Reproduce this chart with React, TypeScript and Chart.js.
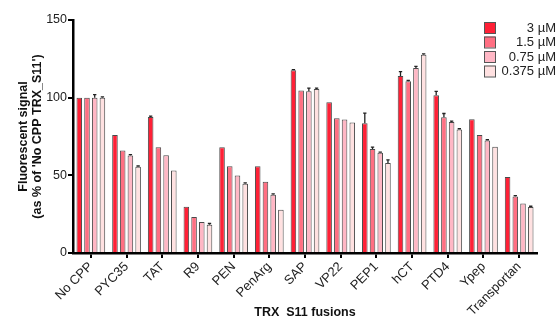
import { useEffect, useRef } from 'react';
import { Chart, registerables } from 'chart.js';
Chart.register(...registerables);

const categories = ['No CPP', 'PYC35', 'TAT', 'R9', 'PEN', 'PenArg', 'SAP', 'VP22', 'PEP1', 'hCT', 'PTD4', 'Ypep', 'Transportan'];
const seriesLabels = ['3 µM', '1.5 µM', '0.75 µM', '0.375 µM'];
const series3 = [100, 76, 87.6, 29.8, 68.1, 55.9, 117.6, 97, 83.6, 114, 101.6, 86.1, 48.9];
const series15 = [100, 66, 68.1, 23.1, 55.9, 45.9, 104.6, 86.8, 66.9, 110.6, 87.4, 75.9, 36.4];
const series075 = [100, 62.8, 63, 19.9, 49.9, 37.5, 104.1, 85.9, 64.5, 119.1, 84.4, 72.4, 31.9];
const series0375 = [100, 55.5, 53.1, 18.2, 44.6, 27.9, 105.6, 84, 58, 127.7, 79.5, 68.4, 29.6];
const err3 = [0, 0, 0.5, 0, 0, 0, 0.5, 0, 6.5, 2.8, 2.5, 0, 0];
const err15 = [0, 0, 0, 0, 0, 0, 0, 0, 1.2, 0.5, 2.4, 0, 0.5];
const err075 = [2, 0.5, 0, 0, 0, 0.5, 2, 0, 0.5, 1, 0.5, 0.5, 0];
const err0375 = [0.5, 0.5, 0, 0.8, 0.5, 0, 0.5, 0, 2, 0.5, 0.5, 0, 0.5];
const yTicks = [0, 50, 100, 150];

const seriesValues = [series3, series15, series075, series0375];
const seriesErrors = [err3, err15, err075, err0375];
const seriesColors = ['#ff2036', '#ff6f82', '#ffb7c5', '#ffe1e1'];
const borderCol = '#4a4a4a';
const FONT = "'Liberation Sans', Arial, sans-serif";

const errorBarPlugin = {
  id: 'errorBars',
  afterDatasetsDraw(chart: any) {
    const ctx = chart.ctx;
    const ys = chart.scales.y;
    chart.data.datasets.forEach((ds: any, i: number) => {
      const meta = chart.getDatasetMeta(i);
      const errs = seriesErrors[i];
      meta.data.forEach((bar: any, j: number) => {
        const e = errs[j];
        if (!e) return;
        const top = ys.getPixelForValue(ds.data[j] + e);
        const hw = bar.width * 0.3;
        ctx.save();
        ctx.strokeStyle = '#222';
        ctx.lineWidth = 1.3;
        ctx.beginPath();
        ctx.moveTo(bar.x, bar.y);
        ctx.lineTo(bar.x, top);
        ctx.moveTo(bar.x - hw, top);
        ctx.lineTo(bar.x + hw, top);
        ctx.stroke();
        ctx.restore();
      });
    });
  },
};

const legendPlugin = {
  id: 'customLegend',
  afterDraw(chart: any) {
    const ctx = chart.ctx;
    const x0 = chart.width - 73;
    const y0 = 22;
    const step = 14.5;
    ctx.save();
    ctx.font = `13px ${FONT}`;
    ctx.textAlign = 'right';
    ctx.textBaseline = 'middle';
    seriesLabels.forEach((lab, i) => {
      const y = y0 + i * step;
      ctx.fillStyle = seriesColors[i];
      ctx.fillRect(x0, y, 11, 11);
      ctx.strokeStyle = '#555';
      ctx.lineWidth = 1;
      ctx.strokeRect(x0 + 0.5, y + 0.5, 11, 11);
      ctx.fillStyle = '#222';
      ctx.fillText(lab, chart.width - 1, y + 6);
    });
    ctx.restore();
  },
};

export default function App() {
  const ref = useRef<HTMLCanvasElement>(null);
  useEffect(() => {
    document.body.style.margin = '0';
    Chart.defaults.font.family = FONT;
    Chart.defaults.color = '#222';
    const chart = new Chart(ref.current!, {
      type: 'bar',
      data: {
        labels: categories,
        datasets: seriesValues.map((vals, i) => ({
          label: seriesLabels[i],
          data: vals,
          backgroundColor: seriesColors[i],
          borderColor: borderCol,
          borderWidth: 1,
          categoryPercentage: 0.865,
          barPercentage: 0.72,
        })),
      },
      options: {
        responsive: false,
        animation: false,
        devicePixelRatio: 1,
        layout: { padding: { top: 20, right: 20, left: 0, bottom: 0 } },
        plugins: { legend: { display: false }, tooltip: { enabled: false } },
        scales: {
          x: {
            grid: { drawOnChartArea: false, drawTicks: true, offset: false, tickLength: 5, color: '#000', lineWidth: 2 },
            border: { display: true, width: 2.5, color: '#000' },
            ticks: { minRotation: 45, maxRotation: 45, padding: 1, font: { size: 13 }, color: '#222' },
            title: { display: true, text: 'TRX  S11 fusions', font: { size: 12.5, weight: 'bold' }, color: '#111', padding: { top: 0, bottom: 0 } },
            afterFit: (s: any) => { s.height = 67; },
          },
          y: {
            min: 0,
            max: 150,
            afterBuildTicks: (s: any) => { s.ticks = yTicks.map((v) => ({ value: v })); },
            grid: { drawOnChartArea: false, drawTicks: true, tickLength: 5, color: '#000', lineWidth: 2 },
            border: { display: true, width: 2.5, color: '#000' },
            ticks: { padding: 1, font: { size: 12.5 }, color: '#222' },
            title: {
              display: true,
              text: ['Fluorescent signal', "(as % of 'No CPP TRX_S11')"],
              font: { size: 12.5, weight: 'bold', lineHeight: 1.1 },
              color: '#111',
              padding: { top: 17, bottom: 0 },
            },
            afterFit: (s: any) => { s.width = 73; },
          },
        },
      },
      plugins: [errorBarPlugin, legendPlugin],
    } as any);
    return () => chart.destroy();
  }, []);
  return (
    <div style={{ width: 557, height: 320 }}>
      <canvas ref={ref} width={557} height={320} style={{ display: 'block' }} />
    </div>
  );
}
